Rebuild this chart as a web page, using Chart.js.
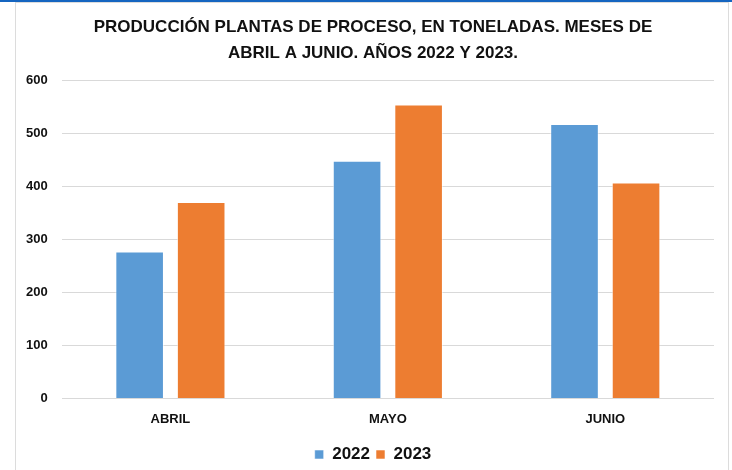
<!DOCTYPE html>
<html>
<head>
<meta charset="utf-8">
<script src="https://cdn.jsdelivr.net/npm/chart.js@4"></script>
<style>
  html, body { margin: 0; padding: 0; background: #fff; }
  body { width: 732px; height: 470px; position: relative; overflow: hidden; }
  #topline { position: absolute; left: 0; top: 0; width: 732px; height: 2px; background: #1565c0; }
  #frame { position: absolute; left: 15px; top: 2px; width: 712px; height: 480px; border: 1px solid #dcdcdc; }
  #chart { position: absolute; left: 0; top: 0; }
</style>
</head>
<body>
<div id="topline"></div>
<div id="frame"></div>
<canvas id="chart" width="732" height="470"></canvas>
<script>
// datos
const meses = ['ABRIL', 'MAYO', 'JUNIO'];
const serie2022 = [277, 448, 517];
const serie2023 = [370, 554, 407];
const yTicks = [0, 100, 200, 300, 400, 500, 600];
const titulo = ['PRODUCCIÓN PLANTAS DE PROCESO, EN TONELADAS. MESES DE', 'ABRIL A JUNIO. AÑOS 2022 Y 2023.'];

const FONT = "'Liberation Sans Narrow', 'Liberation Sans', sans-serif";

// centra titulo y leyenda sobre el marco, no sobre el area del grafico
const centrarBloques = {
    id: 'centrarBloques',
    afterLayout(chart) {
        const dx = 10;
        [chart.titleBlock, chart.legend].forEach(b => {
            if (b) { b.left += dx; b.right += dx; }
        });
    }
};

const ctx = document.getElementById('chart');
new Chart(ctx.getContext('2d'), {
    type: 'bar',
    data: {
        labels: meses,
        datasets: [
            {
                label: '2022',
                data: serie2022,
                backgroundColor: '#5b9bd5',
                borderColor: 'rgba(255,255,255,0.55)',
                borderWidth: 1,
                barPercentage: 0.79,
                categoryPercentage: 0.566,
            },
            {
                label: '2023',
                data: serie2023,
                backgroundColor: '#ed7d31',
                borderColor: 'rgba(255,255,255,0.55)',
                borderWidth: 1,
                barPercentage: 0.79,
                categoryPercentage: 0.566,
            },
        ]
    },
    options: {
        responsive: false,
        animation: false,
        layout: { padding: { left: 12, right: 18, top: 15, bottom: -3 } },
        scales: {
            x: {
                grid: { display: false, drawTicks: false },
                border: { display: false },
                ticks: { color: '#111', padding: 13, font: { family: FONT, size: 13, weight: 'bold' } }
            },
            y: {
                min: 0,
                max: 600,
                afterBuildTicks: axis => { axis.ticks = yTicks.map(v => ({ value: v })); },
                grid: { color: '#d9d9d9', lineWidth: 1, drawTicks: false },
                border: { display: false },
                ticks: { color: '#111', padding: 14, font: { family: FONT, size: 13, weight: 'bold' } }
            }
        },
        plugins: {
            title: {
                display: true,
                text: titulo,
                color: '#111',
                font: { family: FONT, size: 17, weight: 'bold', lineHeight: 1.5 },
                padding: { top: 0, bottom: 14 }
            },
            legend: {
                display: true,
                position: 'bottom',
                labels: {
                    color: '#111',
                    boxWidth: 9,
                    boxHeight: 9,
                    padding: 6,
                    font: { family: FONT, size: 17, weight: 'bold' }
                }
            },
            tooltip: { enabled: false }
        }
    },
    plugins: [centrarBloques]
});
</script>
</body>
</html>
